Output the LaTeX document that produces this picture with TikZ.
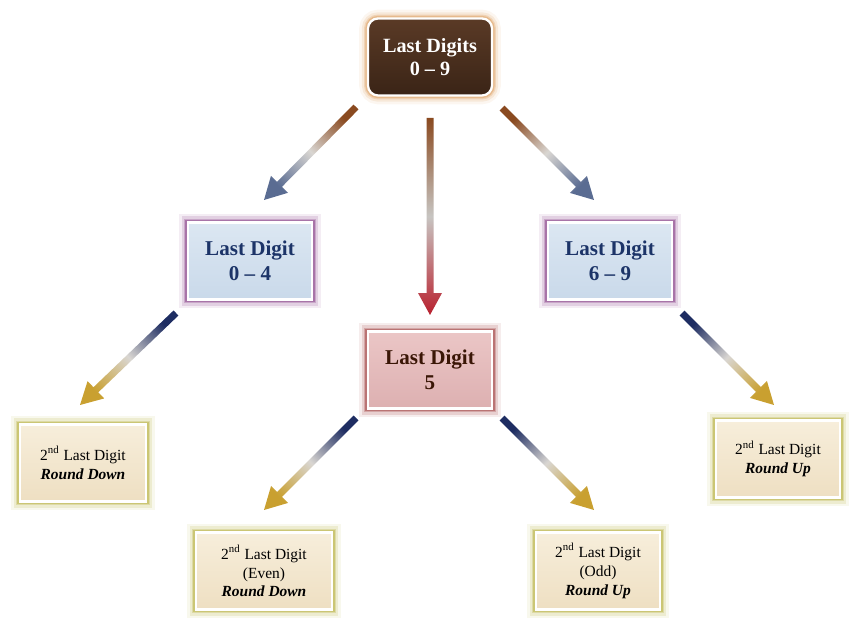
\documentclass[tikz,border=0pt]{standalone}
\usepackage{fontspec}
\setmainfont{Liberation Serif}
\usetikzlibrary{calc,positioning,shadows}

\definecolor{rustarrow}{HTML}{8A4A20}
\definecolor{slatearrow}{HTML}{5A6C92}
\definecolor{navyarrow}{HTML}{1E2D62}
\definecolor{goldarrow}{HTML}{C9A030}
\definecolor{redarrow}{HTML}{B8202E}
\definecolor{palearrow}{HTML}{D9D6D2}
\definecolor{bluetext}{HTML}{1C3468}
\definecolor{pinktext}{HTML}{3A1606}
\definecolor{browntop}{HTML}{5A3A26}
\definecolor{brownbot}{HTML}{3A2416}
\definecolor{bluetop}{HTML}{DCE7F2}
\definecolor{bluebot}{HTML}{C9D9EA}
\definecolor{pinktop}{HTML}{EBC6C6}
\definecolor{pinkbot}{HTML}{DDB0B1}
\definecolor{creamtop}{HTML}{F7EEDB}
\definecolor{creambot}{HTML}{EEDFC2}

% shaded arrow: from, to, start colour, middle colour, end colour, shading angle
\newcommand{\shadearrow}[6]{%
  \coordinate (hb) at ($(#2)!0.44cm!(#1)$);
  \shade[top color=#3, bottom color=#5, middle color=#4, shading angle=#6]
    ($(#1)!0.07cm!90:(#2)$) -- ($(hb)!0.07cm!90:(#2)$) -- ($(hb)!0.24cm!90:(#2)$)
    -- (#2) -- ($(hb)!0.24cm!-90:(#2)$) -- ($(hb)!0.07cm!-90:(#2)$)
    -- ($(#1)!0.07cm!-90:(#2)$) -- cycle;
}

\tikzset{
  glow/.style={preaction={draw=#1, opacity=0.07, line width=10pt},
               preaction={draw=#1, opacity=0.12, line width=7pt},
               preaction={draw=#1, opacity=0.2, line width=4.5pt},
               preaction={draw=#1, opacity=0.3, line width=3pt}},
  box/.style={draw=white, line width=1.3pt, minimum width=2.48cm,
              minimum height=1.54cm, align=center, inner sep=2pt},
  digitsbox/.style={box, rounded corners=0.2cm, glow=brown!70!orange,
              top color=browntop, bottom color=brownbot,
              text=white, font=\fontsize{11.5}{13.5}\selectfont\bfseries},
  lowbox/.style={box, glow=violet!75!black, top color=bluetop,
              bottom color=bluebot, text=bluetext,
              font=\fontsize{12}{14}\selectfont\bfseries},
  fivebox/.style={box, glow=red!50!black, top color=pinktop,
              bottom color=pinkbot, text=pinktext,
              font=\fontsize{12}{14}\selectfont\bfseries},
  roundbox/.style={box, glow=olive!85!yellow, top color=creamtop,
              bottom color=creambot, text=black,
              font=\fontsize{8.8}{10.8}\selectfont},
}

\begin{document}
\begin{tikzpicture}[x=0.02cm, y=-0.02cm]
  \useasboundingbox (0,0) rectangle (862,634);

  % boxes
  \node[digitsbox] (digits) at (430,57) {Last Digits\\0 \textendash{} 9};
  \node[lowbox] (low) at (250,261) {Last Digit\\0 \textendash{} 4};
  \node[lowbox] (high) at (610,261) {Last Digit\\6 \textendash{} 9};
  \node[fivebox] (five) at (430,370) {Last Digit\\5};
  \node[roundbox, minimum width=2.52cm] (down) at (83,463)
       {2\textsuperscript{nd} Last Digit\\\textbf{\textit{Round Down}}};
  \node[roundbox] (up) at (778,459)
       {2\textsuperscript{nd} Last Digit\\\textbf{\textit{Round Up}}};
  \node[roundbox, minimum width=2.72cm] (even) at (264,571)
       {2\textsuperscript{nd} Last Digit\\(Even)\\\textbf{\textit{Round Down}}};
  \node[roundbox] (odd) at (598,571)
       {2\textsuperscript{nd} Last Digit\\(Odd)\\\textbf{\textit{Round Up}}};

  % arrow ends
  \coordinate (digits-l) at (356,107);  \coordinate (low-in)  at (264,200);
  \coordinate (digits-m) at (430,118);  \coordinate (five-in) at (430,315);
  \coordinate (digits-r) at (502,108);  \coordinate (high-in) at (594,200);
  \coordinate (low-out)  at (176,313);  \coordinate (down-in) at (80,405);
  \coordinate (five-l)   at (356,418);  \coordinate (even-in) at (264,510);
  \coordinate (five-r)   at (502,418);  \coordinate (odd-in)  at (594,510);
  \coordinate (high-out) at (682,313);  \coordinate (up-in)   at (774,405);

  % arrows
  \shadearrow{digits-l}{low-in}{rustarrow}{palearrow}{slatearrow}{-45}
  \shadearrow{digits-m}{five-in}{rustarrow}{palearrow!80!gray}{redarrow}{0}
  \shadearrow{digits-r}{high-in}{rustarrow}{palearrow}{slatearrow}{45}
  \shadearrow{low-out}{down-in}{navyarrow}{palearrow}{goldarrow}{-45}
  \shadearrow{five-l}{even-in}{navyarrow}{palearrow}{goldarrow}{-45}
  \shadearrow{five-r}{odd-in}{navyarrow}{palearrow}{goldarrow}{45}
  \shadearrow{high-out}{up-in}{navyarrow}{palearrow}{goldarrow}{45}
\end{tikzpicture}
\end{document}
